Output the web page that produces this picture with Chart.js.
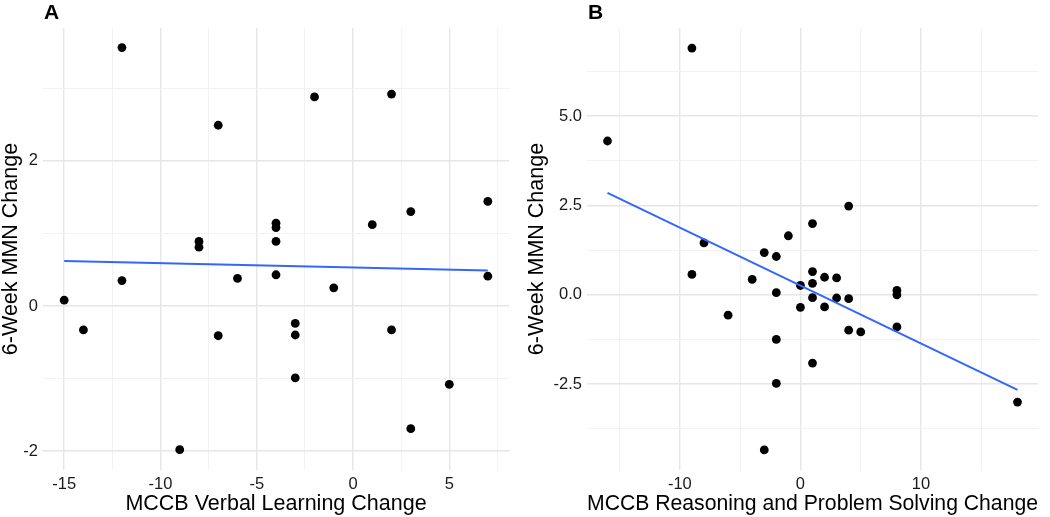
<!DOCTYPE html>
<html lang="en">
<head>
    <meta charset="UTF-8">
    <title>6-Week MMN Change vs MCCB Change</title>
    <script src="https://cdn.jsdelivr.net/npm/chart.js"></script>
    <style>
        body {
            margin: 0;
            padding: 0;
            background: #fff;
        }

        .panel {
            position: absolute;
            top: 0;
        }
    </style>
</head>
<body>
    <canvas id="chartA" class="panel" width="525" height="517" style="left:0"></canvas>
    <canvas id="chartB" class="panel" width="525" height="517" style="left:525px"></canvas>

    <script>
        // Panel A - verbal learning
        const verbalChange = [-12, -2, 2, -7, 7, 3, 1, -4, -4, -4, -8, -8, -4, -12, -6, 7, -1, -15, -14, -7, -3, -3, -3, 2, 5, 3, -9];
        const mmnChangeA = [3.56, 2.88, 2.92, 2.49, 1.44, 1.30, 1.12, 1.14, 1.08, 0.89, 0.89, 0.81, 0.43, 0.35, 0.38, 0.41, 0.25, 0.08, -0.33, -0.41, -0.24, -0.40, -0.99, -0.33, -1.08, -1.69, -1.98];
        const fitXA = [-15, 7];
        const fitYA = [0.62, 0.49];

        // Panel B - reasoning and problem solving
        const reasoningChange = [-9, -16, 4, 1, -1, -8, -3, -2, -9, -4, 1, 2, 3, 1, 0, -2, 8, 8, 1, 3, 4, 0, 2, -6, 4, 5, 8, -2, 1, -2, 18, -3];
        const mmnChangeB = [6.90, 4.30, 2.48, 1.99, 1.65, 1.45, 1.18, 1.07, 0.57, 0.43, 0.65, 0.49, 0.47, 0.32, 0.26, 0.06, 0.12, 0.0, -0.08, -0.09, -0.11, -0.35, -0.34, -0.57, -0.99, -1.04, -0.90, -1.25, -1.91, -2.48, -3.00, -4.34];
        const fitXB = [-16, 18];
        const fitYB = [2.85, -2.66];

        // ticks (major ones get labels, minor ones only a grid line)
        const xMajorA = [-15, -10, -5, 0, 5];
        const xMinorA = [-12.5, -7.5, -2.5, 2.5, 7.5];
        const yMajorA = [-2, 0, 2];
        const yMinorA = [-1, 1, 3];
        const xMajorB = [-10, 0, 10];
        const xMinorB = [-15, -5, 5, 15];
        const yMajorB = [-2.5, 0, 2.5, 5];
        const yMinorB = [-3.75, -1.25, 1.25, 3.75, 6.25];

        const FONT = '"Liberation Sans", Arial, sans-serif';

        const panelLetter = {
            id: 'panelLetter',
            afterDraw(chart, args, opts) {
                const ctx = chart.ctx;
                ctx.save();
                ctx.font = 'bold 21px ' + FONT;
                ctx.fillStyle = '#000';
                ctx.textBaseline = 'alphabetic';
                ctx.fillText(opts.text, chart.chartArea.left + 1, 19);
                ctx.restore();
            }
        };

        function toPoints(xs, ys) {
            return xs.map((x, i) => ({ x: x, y: ys[i] }));
        }

        function axis(opts) {
            const all = opts.major.concat(opts.minor).sort((a, b) => a - b);
            return {
                type: 'linear',
                min: opts.min,
                max: opts.max,
                afterBuildTicks: scale => {
                    scale.ticks = all.map(v => ({ value: v }));
                },
                afterFit: opts.afterFit,
                ticks: {
                    autoSkip: false,
                    maxRotation: 0,
                    padding: opts.tickPad,
                    color: '#1a1a1a',
                    font: { family: FONT, size: 16.5 },
                    callback: v => opts.major.includes(v) ? opts.fmt(v) : ''
                },
                grid: {
                    drawTicks: false,
                    color: c => c.tick && opts.major.includes(c.tick.value) ? '#e6e6e6' : '#f0f0f0',
                    lineWidth: c => c.tick && opts.major.includes(c.tick.value) ? 1.4 : 0.9
                },
                border: { display: false },
                title: {
                    display: true,
                    text: opts.title,
                    color: '#000',
                    font: { family: FONT, size: 21.5 },
                    padding: opts.titlePad
                }
            };
        }

        function makePanel(id, cfg) {
            new Chart(document.getElementById(id), {
                type: 'scatter',
                data: {
                    datasets: [{
                        type: 'line',
                        data: toPoints(cfg.fitX, cfg.fitY),
                        borderColor: '#3366FF',
                        borderWidth: 2,
                        pointRadius: 0,
                        fill: false,
                        order: 0
                    }, {
                        data: toPoints(cfg.xs, cfg.ys),
                        backgroundColor: '#000',
                        borderWidth: 0,
                        pointRadius: 4.4,
                        order: 1
                    }]
                },
                options: {
                    responsive: false,
                    animation: false,
                    layout: { padding: { top: 28, right: cfg.padRight, left: 0, bottom: 0 } },
                    plugins: {
                        legend: { display: false },
                        tooltip: { enabled: false },
                        panelLetter: { text: cfg.letter }
                    },
                    scales: {
                        x: axis({
                            min: cfg.xMin, max: cfg.xMax,
                            major: cfg.xMajor, minor: cfg.xMinor,
                            fmt: v => String(v),
                            tickPad: 5,
                            title: cfg.xTitle,
                            titlePad: { top: 0, bottom: 0 },
                            afterFit: s => { s.height = 47; }
                        }),
                        y: axis({
                            min: cfg.yMin, max: cfg.yMax,
                            major: cfg.yMajor, minor: cfg.yMinor,
                            fmt: cfg.yFmt,
                            tickPad: 5,
                            title: '6-Week MMN Change',
                            titlePad: { top: cfg.yTitlePad, bottom: 0 },
                            afterFit: s => { s.width = cfg.plotLeft; }
                        })
                    }
                },
                plugins: [panelLetter]
            });
        }

        makePanel('chartA', {
            letter: 'A',
            xs: verbalChange, ys: mmnChangeA,
            fitX: fitXA, fitY: fitYA,
            xMin: -16.1, xMax: 8.1, yMin: -2.26, yMax: 3.83,
            xMajor: xMajorA, xMinor: xMinorA,
            yMajor: yMajorA, yMinor: yMinorA,
            yFmt: v => String(v),
            xTitle: 'MCCB Verbal Learning Change',
            plotLeft: 43, padRight: 16, yTitlePad: -2
        });

        makePanel('chartB', {
            letter: 'B',
            xs: reasoningChange, ys: mmnChangeB,
            fitX: fitXB, fitY: fitYB,
            xMin: -17.7, xMax: 19.7, yMin: -4.9, yMax: 7.46,
            xMajor: xMajorB, xMinor: xMinorB,
            yMajor: yMajorB, yMinor: yMinorB,
            yFmt: v => v.toFixed(1),
            xTitle: 'MCCB Reasoning and Problem Solving Change',
            plotLeft: 62, padRight: 12, yTitlePad: -1
        });
    </script>
</body>
</html>
